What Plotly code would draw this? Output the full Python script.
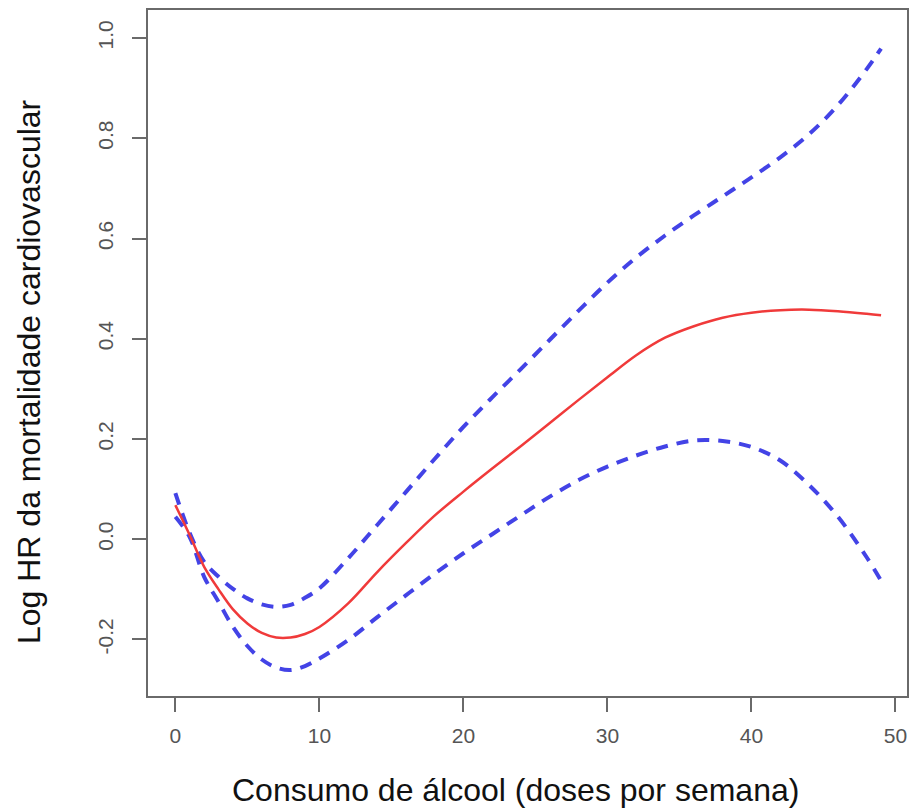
import plotly.graph_objects as go

# Weekly alcohol intake (doses) at which the fitted curve and its bounds are listed
doses = [0, 1, 2, 3, 4, 5, 6, 7, 8, 9, 10, 12, 14, 16, 18, 20, 22, 24, 26, 28,
         30, 32, 34, 36, 38, 40, 42, 44, 46, 48, 49]

# Fitted log hazard ratio for cardiovascular mortality
log_hr = [0.068, 0.008, -0.055, -0.100, -0.140, -0.168, -0.187, -0.196, -0.196,
          -0.189, -0.175, -0.128, -0.066, -0.008, 0.047, 0.095, 0.141, 0.186,
          0.232, 0.278, 0.323, 0.367, 0.402, 0.425, 0.442, 0.452, 0.457, 0.458,
          0.455, 0.450, 0.447]

# Upper and lower confidence bounds
upper_ci = [0.092, 0.012, -0.045, -0.075, -0.099, -0.118, -0.130, -0.135, -0.131,
            -0.117, -0.098, -0.038, 0.028, 0.094, 0.160, 0.224, 0.283, 0.340,
            0.398, 0.456, 0.512, 0.562, 0.606, 0.646, 0.684, 0.722, 0.762, 0.808,
            0.866, 0.938, 0.979]

lower_ci = [0.045, 0.004, -0.075, -0.125, -0.175, -0.213, -0.240, -0.256, -0.261,
            -0.253, -0.238, -0.201, -0.156, -0.112, -0.069, -0.028, 0.010, 0.048,
            0.085, 0.118, 0.145, 0.167, 0.185, 0.197, 0.196, 0.184, 0.157, 0.108,
            0.045, -0.036, -0.083]

x_ticks = [0, 10, 20, 30, 40, 50]
y_ticks = [-0.2, 0.0, 0.2, 0.4, 0.6, 0.8, 1.0]
y_tick_text = ["-0.2", "0.0", "0.2", "0.4", "0.6", "0.8", "1.0"]

x_title = "Consumo de álcool (doses por semana)"
y_title = "Log HR da mortalidade cardiovascular"

FONT = "Liberation Sans, Arial, sans-serif"
BLUE = "#4343e6"
RED = "#f03a3a"
AXIS = "#6a6a6a"

fig = go.Figure()

for bound in (upper_ci, lower_ci):
    fig.add_trace(go.Scatter(
        x=doses, y=bound, mode="lines",
        line=dict(color=BLUE, width=4, dash="12px,9px", shape="spline", smoothing=1.0),
        hoverinfo="skip", showlegend=False,
    ))

fig.add_trace(go.Scatter(
    x=doses, y=log_hr, mode="lines",
    line=dict(color=RED, width=2.5, shape="spline", smoothing=1.0),
    showlegend=False,
))

axis_common = dict(
    showgrid=False, zeroline=False,
    showline=True, linecolor=AXIS, linewidth=2, mirror=True,
    ticks="outside", ticklen=14, tickwidth=2, tickcolor=AXIS,
    tickfont=dict(family=FONT, size=21, color="#555555"),
)

fig.update_layout(
    width=914, height=809,
    margin=dict(l=148, r=5, t=10, b=113),
    paper_bgcolor="white", plot_bgcolor="white",
    xaxis=dict(range=[-1.9, 50.8], tickvals=x_ticks, ticklabelstandoff=6, **axis_common),
    yaxis=dict(range=[-0.3128, 1.0559], tickvals=y_ticks, ticktext=y_tick_text,
               tickangle=-90, ticklabelstandoff=11, **axis_common),
    annotations=[
        dict(text=x_title, xref="paper", yref="paper", x=0.4836, y=-0.1375,
             xanchor="center", yanchor="middle", showarrow=False,
             font=dict(family=FONT, size=32, color="#111111")),
        dict(text=y_title, xref="paper", yref="paper", x=-0.157, y=0.4735,
             xanchor="center", yanchor="middle", textangle=-90, showarrow=False,
             font=dict(family=FONT, size=32, color="#111111")),
    ],
)

fig.write_html("out.html")
